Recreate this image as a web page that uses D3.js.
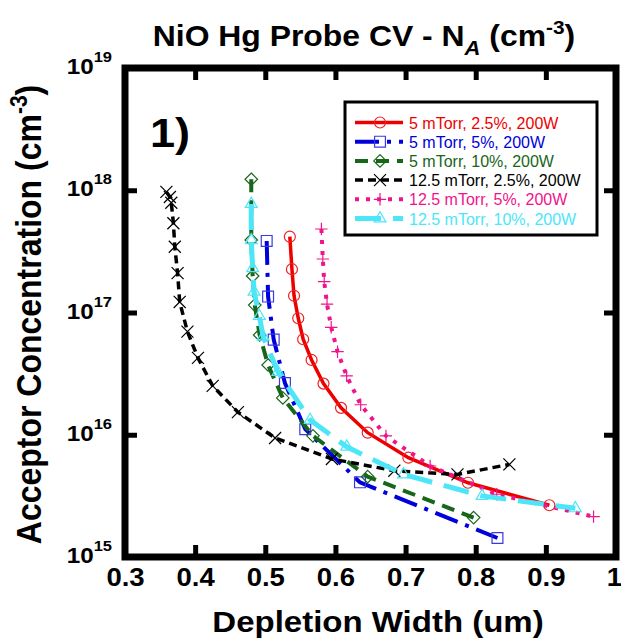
<!DOCTYPE html>
<html>
<head>
<meta charset="utf-8">
<script src="https://cdn.jsdelivr.net/npm/d3@7"></script>
<style>
  body { margin: 0; background: #fff; }
  svg { font-family: Arial, "Liberation Sans", sans-serif; }
</style>
</head>
<body>
<svg id="chart" width="621" height="641"></svg>
<script>
// series labels, in legend order
const seriesNames = [
    '5 mTorr, 2.5%, 200W',
    '5 mTorr, 5%, 200W',
    '5 mTorr, 10%, 200W',
    '12.5 mTorr, 2.5%, 200W',
    '12.5 mTorr, 5%, 200W',
    '12.5 mTorr, 10%, 200W'
];

// depletion width (um) and acceptor concentration (cm^-3) per series
const w_5_25 = [0.535, 0.538, 0.541, 0.547, 0.554, 0.566, 0.583, 0.608, 0.646, 0.704, 0.789, 0.905];
const na_5_25 = [4.17e17, 2.26e17, 1.37e17, 8.97e16, 6.04e16, 4.09e16, 2.62e16, 1.66e16, 1.04e16, 6.49e15, 4.05e15, 2.65e15];

const w_5_5 = [0.502, 0.504, 0.512, 0.528, 0.557, 0.635, 0.831];
const na_5_5 = [3.85e17, 1.35e17, 6.0e16, 2.65e16, 1.11e16, 4.08e15, 1.43e15];

const w_5_10 = [0.480, 0.480, 0.482, 0.485, 0.492, 0.504, 0.525, 0.568, 0.646, 0.797];
const na_5_10 = [1.23e18, 3.92e17, 1.99e17, 1.15e17, 6.55e16, 3.72e16, 2.0e16, 9.8e15, 4.54e15, 2.1e15];

const w_125_25 = [0.359, 0.364, 0.366, 0.369, 0.371, 0.375, 0.378, 0.389, 0.404, 0.425, 0.461, 0.514, 0.595, 0.684, 0.774, 0.848];
const na_125_25 = [9.7e17, 8.8e17, 7.9e17, 5.37e17, 3.45e17, 2.1e17, 1.22e17, 6.97e16, 4.25e16, 2.51e16, 1.53e16, 9.4e15, 6.34e15, 5.08e15, 4.74e15, 5.72e15];

const w_125_5 = [0.580, 0.582, 0.584, 0.588, 0.594, 0.603, 0.616, 0.636, 0.672, 0.735, 0.830, 0.968];
const na_125_5 = [4.82e17, 2.74e17, 1.79e17, 1.17e17, 7.57e16, 4.78e16, 3.03e16, 1.76e16, 9.8e15, 5.55e15, 3.26e15, 2.14e15];

const w_125_10 = [0.480, 0.480, 0.482, 0.484, 0.4915, 0.497, 0.518, 0.564, 0.616, 0.697, 0.809, 0.942];
const na_125_10 = [7.73e17, 3.9e17, 2.3e17, 1.48e17, 9.35e16, 6.34e16, 3.26e16, 1.32e16, 7.98e15, 4.74e15, 3.16e15, 2.5e15];

const xTicks = [0.3, 0.4, 0.5, 0.6, 0.7, 0.8, 0.9, 1];
const yTicks = [1e15, 1e16, 1e17, 1e18, 1e19];

const svg = d3.select('#chart');
const margin = { top: 68, right: 5, bottom: 84, left: 125 };
const W = +svg.attr('width');
const H = +svg.attr('height');
const stretch = 1.1; // the figure's text is a little wider than plain Arial

const x = d3.scaleLinear().domain([0.3, 1]).range([margin.left, W - margin.right]);
const y = d3.scaleLog().domain([1e15, 1e19]).range([H - margin.bottom, margin.top]);

const styles = [
    { color: '#ee0000', mcolor: '#ee2222', dash: null, lw: 3.5, sym: d3.symbolCircle, size: 95 },
    { color: '#0000dd', mcolor: '#3a3ae0', dash: '24,8,4,8', lw: 4, sym: d3.symbolSquare2, size: 150 },
    { color: '#17661a', mcolor: '#17661a', dash: '13,8', lw: 4, sym: d3.symbolDiamond2, size: 100 },
    { color: '#000000', mcolor: '#000000', dash: '8,5', lw: 3.5, sym: d3.symbolTimes, size: 96 },
    { color: '#f0148c', mcolor: '#f0148c', dash: '4,7', lw: 4, sym: d3.symbolPlus, size: 52 },
    { color: '#4ce6f8', mcolor: '#4ce6f8', dash: '26,12', lw: 5, sym: d3.symbolTriangle2, size: 100 }
];

const seriesData = [
    [w_5_25, na_5_25], [w_5_5, na_5_5], [w_5_10, na_5_10],
    [w_125_25, na_125_25], [w_125_5, na_125_5], [w_125_10, na_125_10]
].map((p, i) => ({
    name: seriesNames[i],
    style: styles[i],
    points: p[0].map((w, j) => ({ w: w, n: p[1][j] }))
}));

const line = d3.line().x(d => x(d.w)).y(d => y(d.n));

// data
seriesData.forEach(s => {
    const g = svg.append('g');
    g.append('path')
        .datum(s.points)
        .attr('d', line)
        .attr('fill', 'none')
        .attr('stroke', s.style.color)
        .attr('stroke-width', s.style.lw)
        .attr('stroke-dasharray', s.style.dash);
    g.selectAll('path.m')
        .data(s.points)
        .enter().append('path')
        .attr('class', 'm')
        .attr('transform', d => `translate(${x(d.w)},${y(d.n)})`)
        .attr('d', d3.symbol().type(s.style.sym).size(s.style.size))
        .attr('fill', 'none')
        .attr('stroke', s.style.mcolor)
        .attr('stroke-width', 1.2);
});

// axes: inward ticks on all four sides
function styleAxis(g) {
    g.select('.domain').remove();
    g.selectAll('.tick line').attr('stroke', '#000').attr('stroke-width', 5);
}

svg.append('g')
    .attr('transform', `translate(0,${H - margin.bottom})`)
    .call(d3.axisBottom(x).tickValues(xTicks).tickSize(-12).tickPadding(11).tickFormat(d3.format('')))
    .call(styleAxis)
    .selectAll('text')
    .attr('fill', '#000')
    .attr('font-size', 25)
    .attr('font-weight', 'bold')
    .attr('font-family', 'Arial, "Liberation Sans", sans-serif')
    .attr('dx', d => d === 1 ? -2 : 0)
    .attr('transform', `scale(${stretch},1)`);

svg.append('g')
    .attr('transform', `translate(0,${margin.top})`)
    .call(d3.axisTop(x).tickValues(xTicks).tickSize(-12).tickFormat(''))
    .call(styleAxis);

svg.append('g')
    .attr('transform', `translate(${margin.left},0)`)
    .call(d3.axisLeft(y).tickValues(yTicks).tickSize(-12).tickFormat(''))
    .call(styleAxis);

svg.append('g')
    .attr('transform', `translate(${W - margin.right},0)`)
    .call(d3.axisRight(y).tickValues(yTicks).tickSize(-12).tickFormat(''))
    .call(styleAxis);

// y tick labels as 10^n
const yLab = svg.selectAll('g.ylab')
    .data(yTicks)
    .enter().append('g')
    .attr('class', 'ylab')
    .attr('transform', d => `translate(112,${y(d) + 6}) scale(${stretch},1)`)
    .append('text')
    .attr('text-anchor', 'end')
    .attr('font-weight', 'bold')
    .attr('font-size', 22);
yLab.append('tspan').text('10');
yLab.append('tspan')
    .attr('font-size', 15)
    .attr('dy', -12)
    .text(d => Math.round(Math.log10(d)));

// frame
svg.append('rect')
    .attr('x', margin.left)
    .attr('y', margin.top)
    .attr('width', W - margin.left - margin.right)
    .attr('height', H - margin.top - margin.bottom)
    .attr('fill', 'none')
    .attr('stroke', '#000')
    .attr('stroke-width', 7);

// title
const title = svg.append('g')
    .attr('transform', `translate(364,46) scale(${stretch},1)`)
    .append('text')
    .attr('text-anchor', 'middle')
    .attr('font-weight', 'bold')
    .attr('font-size', 29);
title.append('tspan').text('NiO Hg Probe CV - N');
title.append('tspan').attr('font-size', 20).attr('font-style', 'italic').attr('dy', 9).text('A');
title.append('tspan').attr('dy', -9).text(' (cm');
title.append('tspan').attr('font-size', 19).attr('dy', -12).text('-3');
title.append('tspan').attr('dy', 12).text(')');

// axis titles
svg.append('g')
    .attr('transform', `translate(378,632) scale(${stretch},1)`)
    .append('text')
    .attr('text-anchor', 'middle')
    .attr('font-weight', 'bold')
    .attr('font-size', 30)
    .text('Depletion Width (um)');

const yTitle = svg.append('g')
    .attr('transform', `translate(41,${(margin.top + H - margin.bottom) / 2 + 2}) scale(${stretch},1) rotate(-90)`)
    .append('text')
    .attr('text-anchor', 'middle')
    .attr('font-weight', 'bold')
    .attr('font-size', 32);
yTitle.append('tspan').text('Acceptor Concentration (cm');
yTitle.append('tspan').attr('font-size', 21).attr('dy', -13).text('-3');
yTitle.append('tspan').attr('dy', 13).text(')');

// panel label
svg.append('g')
    .attr('transform', `translate(150,147) scale(${stretch},1)`)
    .append('text')
    .attr('font-weight', 'bold')
    .attr('font-size', 41)
    .text('1)');

// legend
const legend = svg.append('g').attr('transform', 'translate(345,102)');
legend.append('rect')
    .attr('width', 252)
    .attr('height', 133)
    .attr('fill', '#fff')
    .attr('stroke', '#000')
    .attr('stroke-width', 3);

const rows = legend.selectAll('g.row')
    .data(seriesData)
    .enter().append('g')
    .attr('class', 'row')
    .attr('transform', (d, i) => `translate(0,${20.5 + i * 19.2})`);

rows.append('line')
    .attr('x1', 10).attr('x2', 58)
    .attr('stroke', d => d.style.color)
    .attr('stroke-width', d => d.style.lw)
    .attr('stroke-dasharray', d => d.style.dash);

rows.append('path')
    .attr('transform', 'translate(35,0)')
    .attr('d', d => d3.symbol().type(d.style.sym).size(d.style.size)())
    .attr('fill', 'none')
    .attr('stroke', d => d.style.mcolor)
    .attr('stroke-width', 1.2);

rows.append('text')
    .attr('x', 64)
    .attr('y', 6)
    .attr('font-size', 16)
    .attr('fill', d => d.style.color)
    .text(d => d.name);
</script>
</body>
</html>
